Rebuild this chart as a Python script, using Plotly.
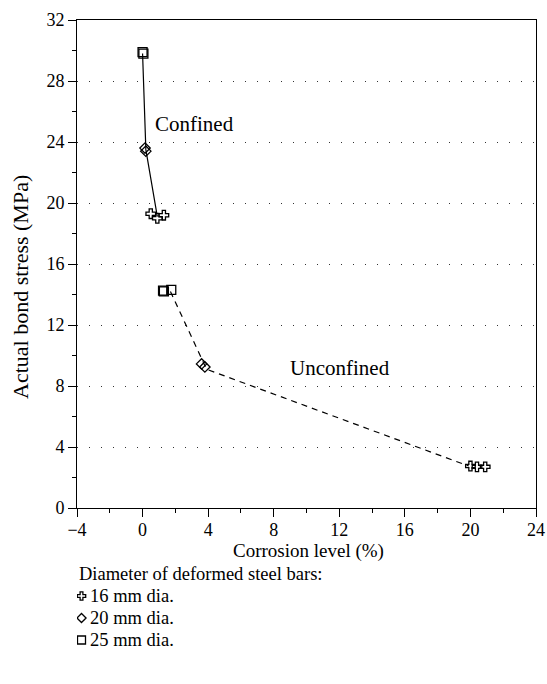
import plotly.graph_objects as go

# Data
conf16_x = [0.5, 0.9, 1.3]
conf16_y = [19.3, 19.0, 19.2]
conf20_x = [0.15, 0.2]
conf20_y = [23.6, 23.4]
conf25_x = [0.0, 0.05]
conf25_y = [29.9, 29.8]

unc16_x = [20.0, 20.4, 20.9]
unc16_y = [2.75, 2.7, 2.7]
unc20_x = [3.6, 3.8]
unc20_y = [9.45, 9.25]
unc25_x = [1.25, 1.3, 1.75]
unc25_y = [14.25, 14.2, 14.3]

conf_line_x = [0.0, 0.2, 0.9]
conf_line_y = [29.8, 23.5, 19.1]
unc_line_x = [1.7, 3.9, 19.9]
unc_line_y = [14.2, 9.1, 2.75]

x_ticks = [-4, 0, 4, 8, 12, 16, 20, 24]
y_ticks = [0, 4, 8, 12, 16, 20, 24, 28, 32]

legend_title = "Diameter of deformed steel bars:"
legend_names = ["16 mm dia.", "20 mm dia.", "25 mm dia."]
legend_symbols = ["cross-open", "diamond-open", "square-open"]
legend_rows = [0, 1, 2]

FONT = "Liberation Serif"
W, H = 547, 684
L, R, T, B = 77, 11, 20, 0
PW, PH = W - L - R, H - T - B


def px_x(p):
    return (p - L) / PW


def px_y(p):
    return (H - B - p) / PH


sizes = {"cross-open": 8, "diamond-open": 8, "square-open": 9}

fig = go.Figure()

fig.add_trace(go.Scatter(x=conf_line_x, y=conf_line_y, mode="lines",
                         line=dict(color="black", width=1.2), showlegend=False))
fig.add_trace(go.Scatter(x=unc_line_x, y=unc_line_y, mode="lines",
                         line=dict(color="black", width=1.2, dash="6px,5px"), showlegend=False))

series = [
    (conf16_x + unc16_x, conf16_y + unc16_y, "cross-open", legend_names[0]),
    (conf20_x + unc20_x, conf20_y + unc20_y, "diamond-open", legend_names[1]),
    (conf25_x + unc25_x, conf25_y + unc25_y, "square-open", legend_names[2]),
]
for xs, ys, sym, nm in series:
    fig.add_trace(go.Scatter(
        x=xs, y=ys, mode="markers", name=nm, showlegend=False,
        marker=dict(symbol=sym, size=sizes[sym], color="black",
                    line=dict(color="black", width=1.3))))

# Legend key (drawn in its own small axes below the chart)
for r, sym, nm in zip(legend_rows, legend_symbols, legend_names):
    fig.add_trace(go.Scatter(
        x=[0], y=[r], mode="markers", xaxis="x2", yaxis="y2", showlegend=False,
        hoverinfo="skip",
        marker=dict(symbol=sym, size=sizes[sym] - 1, color="black",
                    line=dict(color="black", width=1.3))))
    fig.add_annotation(xref="x2", yref="y2", x=0, y=r, xshift=6, text=nm,
                       showarrow=False, xanchor="left", yanchor="middle",
                       font=dict(family=FONT, size=18.5, color="black"))

fig.add_annotation(xref="paper", yref="paper", x=px_x(78), y=px_y(574), text=legend_title,
                   showarrow=False, xanchor="left", yanchor="middle", borderpad=0,
                   font=dict(family=FONT, size=18.5, color="black"))

fig.add_annotation(x=3.15, y=25.2, text="Confined", showarrow=False,
                   font=dict(family=FONT, size=21, color="black"))
fig.add_annotation(x=12.05, y=9.2, text="Unconfined", showarrow=False,
                   font=dict(family=FONT, size=21, color="black"))

# Axis titles
fig.add_annotation(xref="paper", yref="paper", x=px_x(308), y=px_y(551),
                   text="Corrosion level (%)", showarrow=False,
                   xanchor="center", yanchor="middle", borderpad=0,
                   font=dict(family=FONT, size=19, color="black"))
fig.add_annotation(xref="paper", yref="paper", x=px_x(20), y=px_y(287),
                   text="Actual bond stress (MPa)", showarrow=False, textangle=-90,
                   xanchor="center", yanchor="middle",
                   font=dict(family=FONT, size=22, color="black"))

row_h = 22.0
key_top, key_bot = 582.0, 652.0
row0 = 596.0
y2_top = 0 - (row0 - key_top) / row_h
y2_bot = 2 + (key_bot - (row0 + 2 * row_h)) / row_h

fig.update_layout(
    width=W, height=H,
    margin=dict(l=L, r=R, t=T, b=B),
    paper_bgcolor="white", plot_bgcolor="white",
    font=dict(family=FONT, size=18, color="black"),
    showlegend=False,
    xaxis=dict(
        domain=[0, 1], anchor="y",
        range=[-4, 24], tickvals=x_ticks,
        ticktext=["\u22124" if v < 0 else str(v) for v in x_ticks],
        ticks="outside", ticklen=8, tickwidth=1, tickcolor="black",
        ticklabelstandoff=-3,
        minor=dict(dtick=2, ticks="outside", ticklen=4, tickcolor="black", showgrid=False),
        showline=True, linecolor="black", linewidth=1, mirror=True,
        showgrid=False, zeroline=False, automargin=False,
        tickfont=dict(family=FONT, size=18, color="black"),
    ),
    yaxis=dict(
        domain=[px_y(508), 1], anchor="x",
        range=[0, 32], tickvals=y_ticks,
        ticks="outside", ticklen=8, tickwidth=1, tickcolor="black",
        minor=dict(dtick=2, ticks="outside", ticklen=4, tickcolor="black", showgrid=False),
        showline=True, linecolor="black", linewidth=1, mirror=True,
        showgrid=True, gridcolor="#333333", gridwidth=1, griddash="1px,11px",
        zeroline=False, automargin=False,
        tickfont=dict(family=FONT, size=18, color="black"),
    ),
    xaxis2=dict(
        domain=[0, 0.5], anchor="y2", range=[-4.5, 0.5 * PW - 4.5],
        visible=False, fixedrange=True,
    ),
    yaxis2=dict(
        domain=[px_y(key_bot), px_y(key_top)], anchor="x2",
        range=[y2_bot, y2_top], visible=False, fixedrange=True,
    ),
)

fig.write_html("out.html")
